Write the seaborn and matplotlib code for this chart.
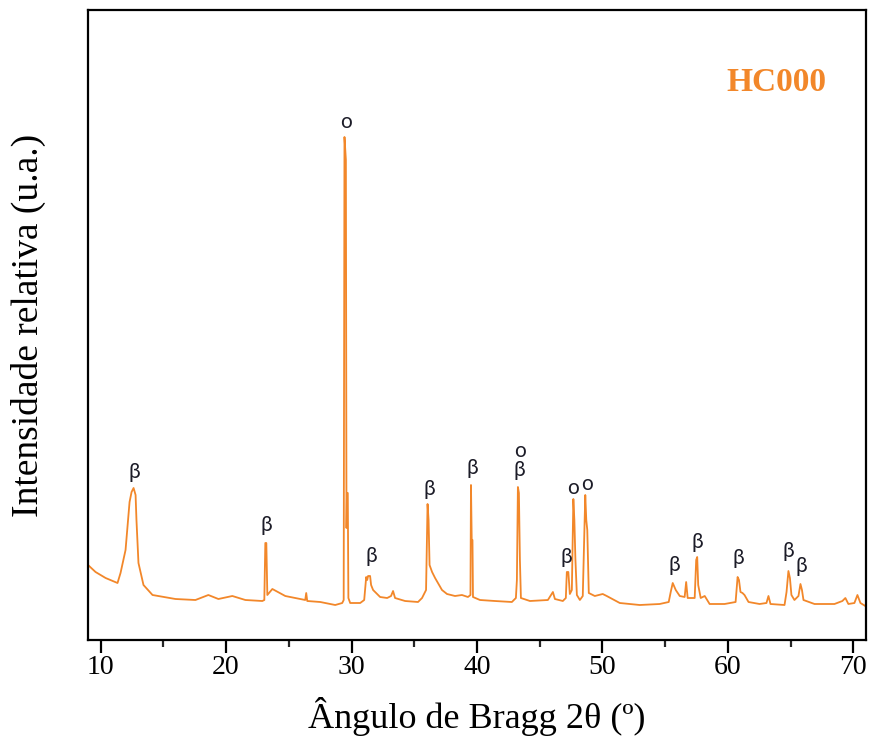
import matplotlib
matplotlib.use("Agg")
import matplotlib.pyplot as plt
import seaborn as sns
import pandas as pd
from matplotlib.ticker import MultipleLocator, NullLocator

# Diffractogram trace: 2-theta (degrees) and intensity (counts)
two_theta = [
    9.00, 9.60, 10.40, 11.35, 11.59, 11.99, 12.31, 12.47, 12.63, 12.79, 12.86, 13.02,
    13.42, 14.14, 15.97, 17.56, 18.59, 19.39, 20.50, 21.54, 22.89, 23.05, 23.13, 23.21,
    23.29, 23.69, 24.72, 25.91, 26.31, 26.39, 26.47, 27.51, 28.70, 29.26, 29.375, 29.439,
    29.551, 29.599, 29.638, 29.702, 29.750, 29.893, 30.69, 31.01, 31.17, 31.25, 31.32,
    31.48, 31.56, 31.72, 32.28, 32.84, 33.15, 33.31, 33.47, 34.27, 35.30, 35.62, 35.94,
    36.06, 36.14, 36.22, 36.42, 36.66, 36.89, 37.21, 37.61, 38.25, 38.80, 39.28, 39.48,
    39.52, 39.58, 39.64, 39.68, 40.24, 41.43, 42.78, 43.10, 43.18, 43.26, 43.34, 43.42,
    43.50, 44.22, 45.65, 46.05, 46.21, 46.84, 47.08, 47.16, 47.28, 47.40, 47.56, 47.68,
    47.76, 47.84, 47.96, 48.20, 48.43, 48.63, 48.71, 48.79, 48.91, 49.39, 50.02, 50.34,
    51.38, 52.97, 54.56, 55.28, 55.44, 55.60, 55.84, 56.16, 56.55, 56.67, 56.79, 57.35,
    57.47, 57.55, 57.63, 57.83, 58.15, 58.54, 59.73, 60.61, 60.77, 60.88, 61.00, 61.16,
    61.32, 61.64, 62.52, 63.07, 63.23, 63.39, 64.51, 64.67, 64.82, 64.94, 65.06, 65.30,
    65.62, 65.78, 65.90, 66.02, 66.90, 68.49, 69.12, 69.36, 69.60, 70.08, 70.32, 70.56,
    70.95,
]
intensity = [
    375, 340, 310, 285, 335, 450, 690, 740, 760, 725, 600, 385,
    275, 225, 205, 200, 225, 205, 220, 200, 195, 200, 485, 485,
    225, 255, 220, 205, 200, 235, 195, 190, 175, 185, 200, 2515,
    2400, 560, 735, 735, 210, 185, 185, 200, 315, 300, 320,
    320, 275, 250, 215, 210, 220, 245, 210, 195, 190, 210, 250,
    680, 600, 375, 340, 310, 285, 250, 230, 220, 225, 215, 225,
    775, 500, 500, 215, 200, 195, 190, 210, 300, 765, 735, 400,
    210, 195, 200, 240, 205, 195, 210, 340, 340, 230, 250, 705,
    600, 410, 225, 200, 220, 725, 600, 550, 235, 220, 230, 220,
    185, 175, 180, 190, 240, 285, 250, 220, 215, 290, 210, 210,
    400, 415, 275, 210, 220, 180, 180, 190, 315, 300, 240, 235,
    225, 190, 180, 185, 220, 180, 175, 240, 345, 310, 225, 200,
    220, 280, 250, 200, 180, 180, 195, 210, 180, 185, 225, 185,
    170,
]

# Phase markers placed above the identified reflections
marker_angles = [12.71, 23.21, 29.57, 31.56, 36.18, 39.60, 43.42, 43.34, 47.64, 47.16,
                 48.75, 55.75, 57.58, 60.85, 64.82, 65.86]
marker_heights = [840, 575, 2590, 420, 755, 860, 945, 850, 760, 415,
                  780, 375, 490, 410, 445, 370]
marker_symbols = ["β", "β", "o", "β", "β", "β", "o", "β", "o", "β",
                  "o", "β", "β", "β", "β", "β"]

x_ticks = [10, 20, 30, 40, 50, 60, 70]
sample_name = "HC000"

line_color = "#F2872A"

sns.set_theme(style="ticks")
plt.rcParams["font.family"] = ["Liberation Serif", "DejaVu Serif"]

fig = plt.figure(figsize=(8.69, 7.51), dpi=100)
ax = fig.add_axes([0.1013, 0.1478, 0.8952, 0.8389])

df = pd.DataFrame({"two_theta": two_theta, "intensity": intensity})
sns.lineplot(data=df, x="two_theta", y="intensity", ax=ax, color=line_color,
             linewidth=1.3, estimator=None, sort=False)

for ang, h, sym in zip(marker_angles, marker_heights, marker_symbols):
    ax.text(ang, h, sym, ha="center", va="center", fontsize=15,
            family=["Lato", "DejaVu Sans"], color="#1c1c28")

ax.text(0.885, 0.885, sample_name, transform=ax.transAxes, ha="center", va="center",
        fontsize=24, fontweight="bold", color=line_color)

ax.set_xlim(9.0, 71.0)
ax.set_ylim(0, 3150)
ax.set_xticks(x_ticks)
ax.xaxis.set_minor_locator(MultipleLocator(5))
ax.yaxis.set_major_locator(NullLocator())
ax.tick_params(axis="x", which="major", direction="out", length=9, width=1.6,
               labelsize=20, pad=2, colors="black")
ax.tick_params(axis="x", which="minor", direction="out", length=5, width=1.6)
ax.tick_params(axis="y", left=False, labelleft=False)

for side in ["left", "right", "top", "bottom"]:
    ax.spines[side].set_visible(True)
    ax.spines[side].set_linewidth(1.6)
    ax.spines[side].set_color("black")

ax.set_xlabel("Ângulo de Bragg 2θ (º)", fontsize=26, labelpad=12, color="black")
ax.set_ylabel("Intensidade relativa (u.a.)", fontsize=27, labelpad=30, color="black")
ax.grid(False)

fig.savefig("out.png", dpi=100)
